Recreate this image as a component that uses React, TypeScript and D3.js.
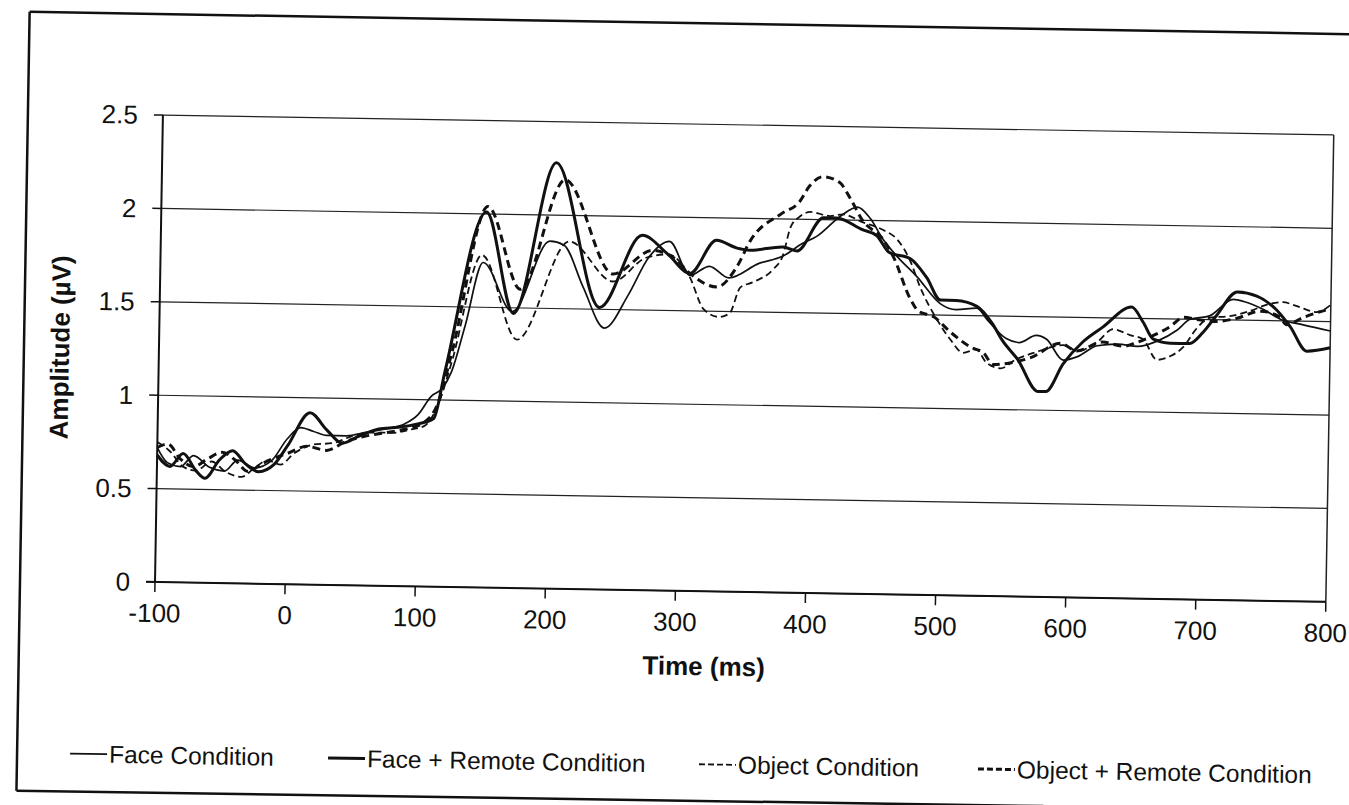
import React from 'react';
import * as d3 from 'd3';

// axis ticks
const timeTicks = [-100, 0, 100, 200, 300, 400, 500, 600, 700, 800];
const amplitudeTicks = [0, 0.5, 1, 1.5, 2, 2.5];

// [time (ms), amplitude (µV)]
const faceCondition: [number, number][] = [
  [-100, 0.72], [-92, 0.64], [-82, 0.62], [-72, 0.68], [-60, 0.62], [-48, 0.6], [-38, 0.66],
  [-25, 0.62], [-12, 0.66], [0, 0.78], [10, 0.84], [20, 0.82], [30, 0.8], [45, 0.8], [60, 0.82],
  [75, 0.84], [90, 0.87], [100, 0.92], [110, 1.02], [118, 1.06], [125, 1.15], [135, 1.4],
  [148, 1.74], [171, 1.48], [199, 1.86], [210, 1.84], [225, 1.62], [242, 1.4], [260, 1.58],
  [275, 1.78], [291, 1.87], [307, 1.69], [322, 1.74], [337, 1.68], [360, 1.76], [378, 1.8],
  [393, 1.87], [404, 1.91], [422, 2.02], [435, 2.07], [445, 2.01], [455, 1.9], [466, 1.81],
  [482, 1.7], [500, 1.56], [512, 1.53], [528, 1.54], [536, 1.48], [551, 1.38], [561, 1.36],
  [574, 1.4], [582, 1.38], [595, 1.27], [606, 1.29], [621, 1.35], [637, 1.36], [652, 1.35],
  [667, 1.38], [682, 1.44], [692, 1.5], [707, 1.52], [725, 1.61], [733, 1.6], [748, 1.56],
  [761, 1.51], [779, 1.48], [800, 1.45],
];

const faceRemoteCondition: [number, number][] = [
  [-100, 0.68], [-90, 0.62], [-80, 0.69], [-70, 0.6], [-63, 0.56], [-52, 0.66], [-42, 0.71],
  [-32, 0.64], [-22, 0.6], [-10, 0.64], [0, 0.74], [17, 0.92], [30, 0.83], [42, 0.76], [55, 0.8],
  [70, 0.84], [85, 0.85], [100, 0.87], [112, 0.9], [120, 1.15], [150, 2.01], [172, 1.47],
  [203, 2.28], [238, 1.51], [270, 1.9], [290, 1.8], [307, 1.7], [327, 1.88], [343, 1.84],
  [353, 1.83], [378, 1.85], [389, 1.83], [409, 2.01], [419, 2.01], [439, 1.95], [450, 1.92],
  [460, 1.83], [476, 1.8], [489, 1.7], [500, 1.58], [512, 1.58], [528, 1.55], [540, 1.46],
  [548, 1.37], [560, 1.27], [576, 1.1], [582, 1.1], [595, 1.25], [610, 1.37], [625, 1.45],
  [647, 1.56], [656, 1.48], [664, 1.39], [677, 1.37], [692, 1.37], [702, 1.43], [712, 1.52],
  [728, 1.65], [743, 1.63], [758, 1.56], [769, 1.47], [782, 1.34], [800, 1.36],
];

const objectCondition: [number, number][] = [
  [-100, 0.75], [-90, 0.7], [-80, 0.62], [-70, 0.6], [-58, 0.65], [-48, 0.6], [-35, 0.57],
  [-25, 0.62], [-15, 0.66], [-5, 0.64], [5, 0.7], [20, 0.75], [35, 0.76], [50, 0.8], [65, 0.82],
  [80, 0.82], [95, 0.84], [105, 0.86], [115, 0.97], [125, 1.2], [147, 1.78], [175, 1.33],
  [214, 1.86], [248, 1.65], [273, 1.78], [290, 1.8], [307, 1.68], [318, 1.51], [330, 1.47],
  [338, 1.49], [346, 1.63], [356, 1.66], [371, 1.73], [378, 1.8], [384, 1.96], [390, 2.01],
  [399, 2.04], [414, 2.02], [424, 2.03], [439, 1.99], [455, 1.95], [466, 1.9], [476, 1.79],
  [484, 1.65], [498, 1.47], [508, 1.37], [518, 1.3], [528, 1.32], [536, 1.25], [547, 1.22],
  [559, 1.27], [574, 1.31], [595, 1.35], [606, 1.32], [621, 1.37], [633, 1.44], [646, 1.41],
  [656, 1.39], [667, 1.28], [677, 1.3], [687, 1.35], [697, 1.45], [707, 1.51], [722, 1.52],
  [738, 1.55], [753, 1.59], [763, 1.6], [774, 1.58], [789, 1.55], [800, 1.59],
];

const objectRemoteCondition: [number, number][] = [
  [-100, 0.72], [-92, 0.74], [-82, 0.66], [-72, 0.62], [-62, 0.66], [-50, 0.7], [-40, 0.66],
  [-30, 0.6], [-20, 0.64], [-8, 0.68], [0, 0.7], [15, 0.74], [30, 0.72], [45, 0.77], [60, 0.8],
  [75, 0.82], [90, 0.84], [105, 0.88], [115, 0.98], [125, 1.25], [151, 2.04], [177, 1.6],
  [210, 2.19], [248, 1.69], [278, 1.82], [295, 1.78], [307, 1.7], [328, 1.63], [343, 1.74],
  [353, 1.88], [377, 2.03], [390, 2.09], [398, 2.18], [408, 2.23], [421, 2.2], [429, 2.12],
  [439, 2.0], [455, 1.9], [463, 1.81], [477, 1.58], [483, 1.52], [495, 1.49], [508, 1.41],
  [524, 1.33], [534, 1.3], [541, 1.24], [554, 1.25], [570, 1.28], [593, 1.36], [605, 1.32],
  [625, 1.37], [641, 1.35], [651, 1.37], [661, 1.4], [677, 1.46], [687, 1.51], [697, 1.5],
  [710, 1.49], [728, 1.51], [746, 1.55], [761, 1.52], [766, 1.48], [779, 1.52], [800, 1.57],
];

const seriesNames = ['Face Condition', 'Face + Remote Condition', 'Object Condition', 'Object + Remote Condition'];

const FONT = '"Liberation Sans", Arial, sans-serif';

export default function App() {
  const width = 1349;
  const height = 805;
  const plot = { left: 155, right: 1326, top: 115, bottom: 582 };

  const x = d3.scaleLinear().domain([-100, 800]).range([plot.left, plot.right]);
  const y = d3.scaleLinear().domain([0, 2.5]).range([plot.bottom, plot.top]);

  const line = d3
    .line<[number, number]>()
    .x((d) => x(d[0]))
    .y((d) => y(d[1]))
    .curve(d3.curveMonotoneX);

  const series = [
    { name: seriesNames[0], data: faceCondition, w: 1.7, dash: undefined },
    { name: seriesNames[1], data: faceRemoteCondition, w: 3, dash: undefined },
    { name: seriesNames[2], data: objectCondition, w: 1.8, dash: '7 4' },
    { name: seriesNames[3], data: objectRemoteCondition, w: 3, dash: '8 5' },
  ];

  // legend entries: sample line start (text follows the sample)
  const legendX = [73, 331, 702, 981];
  const legendY = 755;

  // the scan is tilted by about one degree
  const tilt = 0.97;

  return (
    <svg
      width={width}
      height={height}
      style={{ position: 'absolute', left: 0, top: 0, background: '#fff' }}
      fontFamily={FONT}
    >
      <g transform={`rotate(${tilt} ${plot.left} ${plot.bottom})`}>
        {/* outer frame */}
        <g stroke="#111" strokeWidth={2.5} fill="none">
          <line x1={20} y1={14} x2={1420} y2={14} />
          <line x1={20} y1={14} x2={20} y2={793} />
          <line x1={20} y1={793} x2={1047} y2={791} />
        </g>

        {/* gridlines */}
        <g stroke="#222" strokeWidth={1.2}>
          {amplitudeTicks.map((t) => (
            <line key={t} x1={plot.left} x2={plot.right} y1={y(t)} y2={y(t)} />
          ))}
          <line x1={plot.right} x2={plot.right} y1={plot.top} y2={plot.bottom} strokeWidth={1.5} />
        </g>

        {/* y axis */}
        <g>
          <line x1={plot.left} x2={plot.left} y1={plot.top} y2={plot.bottom} stroke="#111" strokeWidth={2} />
          {amplitudeTicks.map((t) => (
            <g key={t}>
              <line x1={plot.left - 9} x2={plot.left} y1={y(t)} y2={y(t)} stroke="#111" strokeWidth={1.5} />
              <text x={130} y={y(t)} dy="0.35em" textAnchor="end" fontSize={26} fill="#111">
                {t}
              </text>
            </g>
          ))}
          <text
            transform={`translate(56,349) rotate(-90)`}
            textAnchor="middle"
            dy="0.35em"
            fontSize={26}
            fontWeight="bold"
            fill="#111"
          >
            Amplitude (µV)
          </text>
        </g>

        {/* x axis */}
        <g>
          <line x1={plot.left - 9} x2={plot.right} y1={plot.bottom} y2={plot.bottom} stroke="#111" strokeWidth={2} />
          {timeTicks.map((t) => (
            <g key={t}>
              <line x1={x(t)} x2={x(t)} y1={plot.bottom} y2={plot.bottom + 10} stroke="#111" strokeWidth={1.5} />
              <text x={x(t)} y={622} textAnchor="middle" fontSize={26} fill="#111">
                {t}
              </text>
            </g>
          ))}
          <text x={705} y={666} textAnchor="middle" fontSize={26} fontWeight="bold" fill="#111">
            Time (ms)
          </text>
        </g>

        {/* ERP waveforms */}
        <g fill="none" stroke="#111" strokeLinejoin="round">
          {series.map((s) => (
            <path key={s.name} d={line(s.data) || ''} strokeWidth={s.w} strokeDasharray={s.dash} />
          ))}
        </g>

        {/* legend */}
        <g>
          {series.map((s, i) => (
            <g key={s.name} transform={`translate(${legendX[i]},${legendY})`}>
              <line x1={0} x2={37} y1={0} y2={0} stroke="#111" strokeWidth={s.w} strokeDasharray={s.dash ? '6 3' : undefined} />
              <text x={39} y={0} dy="0.35em" fontSize={24.5} fill="#111">
                {s.name}
              </text>
            </g>
          ))}
        </g>
      </g>
    </svg>
  );
}
